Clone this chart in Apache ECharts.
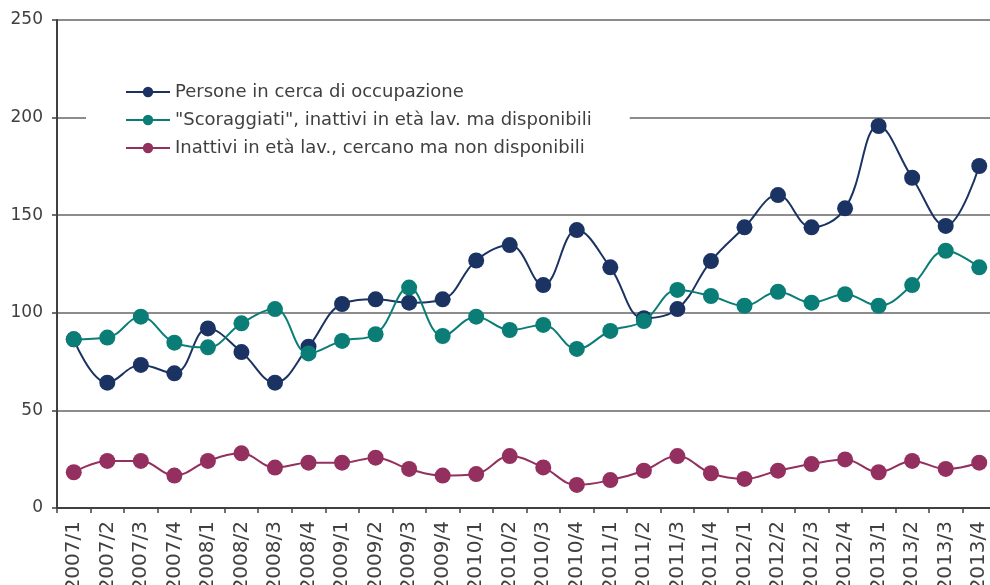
<!DOCTYPE html>
<html>
<head>
<meta charset="utf-8">
<script src="https://cdn.jsdelivr.net/npm/echarts@6/dist/echarts.min.js"></script>
<style>
  html, body { margin: 0; padding: 0; background: #fff; }
  #chart { width: 990px; height: 585px; }
</style>
</head>
<body>
<div id="chart"></div>
<script>
// trimestri
const categories = [
  '2007/1', '2007/2', '2007/3', '2007/4',
  '2008/1', '2008/2', '2008/3', '2008/4',
  '2009/1', '2009/2', '2009/3', '2009/4',
  '2010/1', '2010/2', '2010/3', '2010/4',
  '2011/1', '2011/2', '2011/3', '2011/4',
  '2012/1', '2012/2', '2012/3', '2012/4',
  '2013/1', '2013/2', '2013/3', '2013/4'
]
const seriesNames = [
  'Persone in cerca di occupazione',
  '"Scoraggiati", inattivi in età lav. ma disponibili',
  'Inattivi in età lav., cercano ma non disponibili'
]
const persone = [
  86.4, 64.2, 73.3, 69.0, 92.0, 79.9, 64.2, 82.6,
  104.5, 106.9, 105.2, 106.9, 126.8, 134.7, 114.2, 142.4,
  123.3, 97.2, 101.9, 126.5, 143.8, 160.3, 143.8, 153.5,
  195.7, 169.2, 144.5, 175.2
]
const scoraggiati = [
  86.4, 87.3, 98.0, 84.7, 82.3, 94.6, 101.9, 79.2,
  85.6, 89.0, 112.9, 88.1, 98.0, 91.2, 93.8, 81.5,
  90.7, 95.8, 111.7, 108.6, 103.6, 110.8, 105.2, 109.5,
  103.6, 114.2, 131.8, 123.3
]
const inattivi = [
  18.3, 24.1, 24.1, 16.6, 24.1, 28.0, 20.7, 23.2,
  23.2, 25.8, 20.0, 16.6, 17.4, 26.6, 20.8, 11.8,
  14.3, 19.1, 26.6, 17.8, 14.9, 19.1, 22.5, 24.9,
  18.3, 24.1, 20.0, 23.2
]
const colors = ['#1b3362', '#0b7d77', '#93305f']
const font = '"DejaVu Sans", Verdana, sans-serif'

const chart = echarts.init(document.getElementById('chart'), null, { renderer: 'canvas' })

const mkSeries = (name, data, color, z) => ({
  name: name,
  type: 'line',
  data: data,
  smooth: 0.4,
  symbol: 'circle',
  symbolSize: 16,
  z: z,
  itemStyle: { color: color },
  lineStyle: { color: color, width: 2 },
  emphasis: { disabled: true }
})

const option = {
  animation: false,
  textStyle: { fontFamily: font },
  grid: {
    left: 57,
    top: 20,
    width: 939,
    height: 488,
    containLabel: false,
    outerBoundsMode: 'none'
  },
  legend: {
    orient: 'vertical',
    left: 86,
    top: 77,
    padding: [6, 38, 6, 39],
    backgroundColor: '#fff',
    itemWidth: 44,
    itemHeight: 13,
    itemGap: 10,
    z: 10,
    data: seriesNames,
    textStyle: {
      fontSize: 18,
      color: '#404040',
      fontFamily: font
    }
  },
  xAxis: {
    type: 'category',
    data: categories,
    boundaryGap: true,
    axisLine: { lineStyle: { color: '#404040', width: 2 } },
    axisTick: { show: true, length: 5, lineStyle: { color: '#404040', width: 1.5 } },
    axisLabel: {
      rotate: 90,
      margin: 13,
      fontSize: 20,
      color: '#404040',
      interval: 0,
      hideOverlap: false,
      fontFamily: font
    },
    splitLine: { show: false }
  },
  yAxis: {
    type: 'value',
    min: 0,
    max: 250,
    interval: 50,
    axisLine: { show: true, lineStyle: { color: '#404040', width: 2 } },
    axisTick: { show: true, length: 5, lineStyle: { color: '#404040', width: 1.5 } },
    axisLabel: { margin: 14, fontSize: 17, color: '#404040', fontFamily: font },
    splitLine: { show: true, lineStyle: { color: '#8c8c8c', width: 2 } }
  },
  series: [
    mkSeries(seriesNames[0], persone, colors[0], 3),
    mkSeries(seriesNames[1], scoraggiati, colors[1], 4),
    mkSeries(seriesNames[2], inattivi, colors[2], 2)
  ]
}

chart.setOption(option)
</script>
</body>
</html>
